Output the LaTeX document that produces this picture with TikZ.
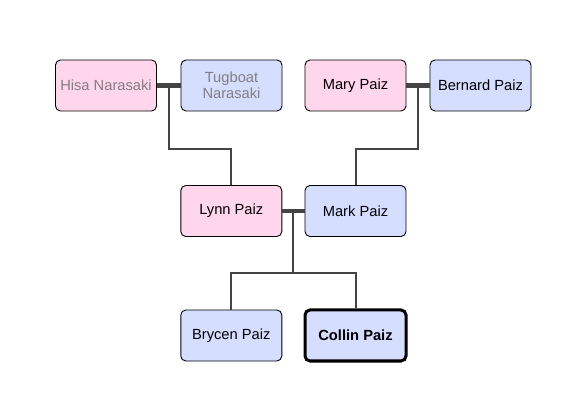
\documentclass[tikz,border=0pt]{standalone}
\usepackage{fontspec}
\setmainfont{Liberation Sans}
\usetikzlibrary{calc}
\definecolor{pinkf}{RGB}{255,214,236}
\definecolor{bluef}{RGB}{214,222,255}
\definecolor{linec}{RGB}{68,68,68}
\definecolor{greytxt}{RGB}{128,128,128}
\begin{document}
\begin{tikzpicture}[x=1pt,y=1pt,
  person/.style={draw=black, line width=0.9pt, rounded corners=5pt, minimum width=101pt, minimum height=51pt, inner sep=1pt, align=center, font=\fontsize{14.7}{16.5}\selectfont},
  female/.style={person, fill=pinkf},
  male/.style={person, fill=bluef},
  marriage/.style={draw=linec, line width=4.5pt},
  kin/.style={draw=linec, line width=2pt}]
\useasboundingbox (0,0) rectangle (578,-411);
\node[female, text=greytxt] (hisa) at (106,-85.5) {Hisa Narasaki};
\node[male, text=greytxt] (tug) at (231.5,-85.5) {Tugboat\\Narasaki};
\node[female] (mary) at (355.5,-85.5) {Mary Paiz};
\node[male] (bern) at (480.5,-85.5) {Bernard Paiz};
\node[female] (lynn) at (231.3,-211) {Lynn Paiz};
\node[male] (mark) at (355.5,-211) {Mark Paiz};
\node[male] (bry) at (231.3,-335.5) {Brycen Paiz};
\node[male, line width=3pt, font=\fontsize{14.7}{16.5}\selectfont\bfseries] (col) at (355.5,-335.5) {Collin Paiz};
% marriages
\draw[marriage] (hisa.east) -- (tug.west);
\draw[marriage] (mary.east) -- (bern.west);
\draw[marriage] (lynn.east) -- (mark.west);
\coordinate (m1) at ($(hisa.east)!0.5!(tug.west)$);
\coordinate (m2) at ($(mary.east)!0.5!(bern.west)$);
\coordinate (m3) at ($(lynn.east)!0.5!(mark.west)$);
\coordinate (j1) at ($(m1)+(0,-63.5)$);
\coordinate (j2) at ($(m2)+(0,-63.5)$);
\coordinate (j3) at ($(m3)+(0,-62.5)$);
\draw[kin] (m1) -- (j1) -| (lynn.north);
\draw[kin] (m2) -- (j2) -| (mark.north);
\draw[kin] (m3) -- (j3);
\draw[kin] (bry.north) |- (j3) -| (col.north);
\end{tikzpicture}
\end{document}
